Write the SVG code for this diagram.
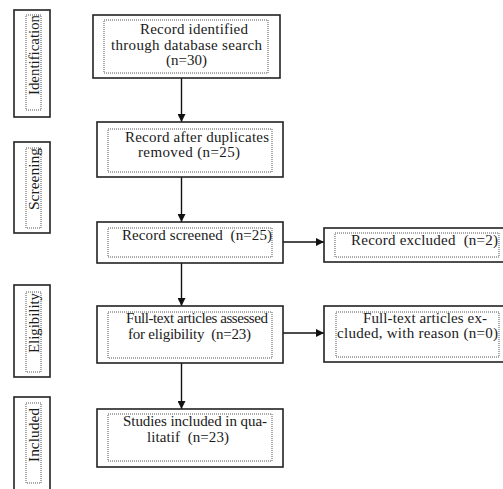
<svg xmlns="http://www.w3.org/2000/svg" width="503" height="489" viewBox="0 0 503 489">
<style>
.o{fill:#fff;stroke:#222;stroke-width:1.6}
.d{fill:none;stroke:#555;stroke-width:1;stroke-dasharray:1 1}
.c{stroke:#111;stroke-width:1.4;fill:none}
text{font-family:"Liberation Serif","Times New Roman",Times,serif;fill:#1a1a1a}
</style>
<defs>
<marker id="ah" viewBox="0 0 8 8" refX="8" refY="4" markerWidth="8" markerHeight="8" markerUnits="userSpaceOnUse" orient="auto">
<path d="M0,0 L8,4 L0,8 Z" fill="#111"/>
</marker>
</defs>
<rect width="503" height="489" fill="#fff"/>
<g font-size="15">
<g id="stage-identification">
<rect class="o" x="14" y="10" width="36" height="107"/>
<rect class="d" x="26" y="15" width="15" height="95"/>
<text transform="translate(39,15) rotate(-90)" text-anchor="end" textLength="80" lengthAdjust="spacingAndGlyphs">Identification</text>
</g>
<g id="stage-screening">
<rect class="o" x="14" y="142" width="36" height="91"/>
<rect class="d" x="26" y="148" width="15" height="80"/>
<text transform="translate(39,148) rotate(-90)" text-anchor="end" textLength="62" lengthAdjust="spacingAndGlyphs">Screening</text>
</g>
<g id="stage-eligibility">
<rect class="o" x="14" y="285" width="36" height="92"/>
<rect class="d" x="26" y="292" width="15" height="80"/>
<text transform="translate(39,293) rotate(-90)" text-anchor="end" textLength="60" lengthAdjust="spacingAndGlyphs">Eligibility</text>
</g>
<g id="stage-included">
<rect class="o" x="14" y="397" width="36" height="100"/>
<rect class="d" x="26" y="403" width="15" height="80"/>
<text transform="translate(39,408) rotate(-90)" text-anchor="end" textLength="54" lengthAdjust="spacingAndGlyphs">Included</text>
</g>
</g>
<g id="connectors">
<line class="c" x1="181.5" y1="78" x2="181.5" y2="122" marker-end="url(#ah)"/>
<line class="c" x1="181.5" y1="177" x2="181.5" y2="222" marker-end="url(#ah)"/>
<line class="c" x1="181.5" y1="263" x2="181.5" y2="306" marker-end="url(#ah)"/>
<line class="c" x1="181.5" y1="363" x2="181.5" y2="409" marker-end="url(#ah)"/>
<line class="c" x1="283" y1="242" x2="324" y2="242" marker-end="url(#ah)"/>
<line class="c" x1="283" y1="333" x2="324" y2="333" marker-end="url(#ah)"/>
</g>
<g font-size="15">
<g id="n1">
<rect class="o" x="93" y="15" width="187" height="63"/>
<rect class="d" x="104" y="20" width="164" height="53"/>
<text x="140" y="34" textLength="108">Record identified</text>
<text x="111" y="50" textLength="151">through database search</text>
<text x="166" y="65" textLength="41">(n=30)</text>
</g>
<g id="n2">
<rect class="o" x="97" y="122" width="186" height="55"/>
<rect class="d" x="108" y="129" width="164" height="43"/>
<text x="125" y="142" textLength="144">Record after duplicates</text>
<text x="138" y="157" textLength="102">removed (n=25)</text>
</g>
<g id="n3">
<rect class="o" x="97" y="222" width="186" height="41"/>
<rect class="d" x="108" y="228" width="164" height="29"/>
<text x="122" y="240" xml:space="preserve" textLength="150">Record screened  (n=25)</text>
</g>
<g id="n4">
<rect class="o" x="97" y="306" width="186" height="57"/>
<rect class="d" x="108" y="312" width="164" height="46"/>
<text x="126" y="323" textLength="142">Full-text articles assessed</text>
<text x="128" y="339" xml:space="preserve" textLength="123">for eligibility  (n=23)</text>
</g>
<g id="n5">
<rect class="o" x="97" y="409" width="186" height="58"/>
<rect class="d" x="108" y="414" width="164" height="47"/>
<text x="123" y="426" textLength="144">Studies included in qua-</text>
<text x="147" y="442" xml:space="preserve" textLength="82">litatif  (n=23)</text>
</g>
<g id="n6">
<rect class="o" x="324" y="228" width="186" height="34"/>
<rect class="d" x="335" y="233" width="164" height="24"/>
<text x="351" y="245" xml:space="preserve" textLength="147">Record excluded  (n=2)</text>
</g>
<g id="n7">
<rect class="o" x="324" y="306" width="186" height="56"/>
<rect class="d" x="336" y="312" width="163" height="45"/>
<text x="363" y="323" textLength="124">Full-text articles ex-</text>
<text x="337" y="338" textLength="161">cluded, with reason (n=0)</text>
</g>
</g>
</svg>
